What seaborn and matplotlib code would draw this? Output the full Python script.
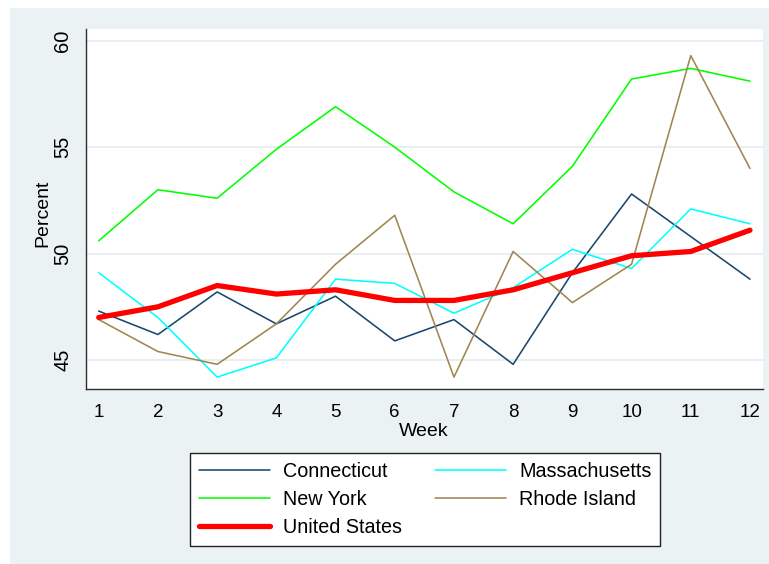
import matplotlib
matplotlib.use("Agg")
import matplotlib.pyplot as plt
from matplotlib.patches import Rectangle
from matplotlib.lines import Line2D
import seaborn as sns
import pandas as pd

# Weekly share (percent) by state
weeks = [1, 2, 3, 4, 5, 6, 7, 8, 9, 10, 11, 12]
connecticut = [47.3, 46.2, 48.2, 46.7, 48.0, 45.9, 46.9, 44.8, 49.1, 52.8, 50.8, 48.8]
massachusetts = [49.1, 47.0, 44.2, 45.1, 48.8, 48.6, 47.2, 48.4, 50.2, 49.3, 52.1, 51.4]
new_york = [50.6, 53.0, 52.6, 54.9, 56.9, 55.0, 52.9, 51.4, 54.1, 58.2, 58.7, 58.1]
rhode_island = [46.9, 45.4, 44.8, 46.7, 49.5, 51.8, 44.2, 50.1, 47.7, 49.5, 59.3, 54.0]
united_states = [47.0, 47.5, 48.5, 48.1, 48.3, 47.8, 47.8, 48.3, 49.1, 49.9, 50.1, 51.1]

y_ticks = [45, 50, 55, 60]

series = {
    "Connecticut": connecticut,
    "Massachusetts": massachusetts,
    "New York": new_york,
    "Rhode Island": rhode_island,
    "United States": united_states,
}
colors = {
    "Connecticut": "#1a476f",
    "Massachusetts": "#00ffff",
    "New York": "#00ff00",
    "Rhode Island": "#a08650",
    "United States": "#ff0000",
}
widths = {
    "Connecticut": 1.15,
    "Massachusetts": 1.15,
    "New York": 1.15,
    "Rhode Island": 1.15,
    "United States": 3.8,
}

df = pd.DataFrame(
    [(name, w, v) for name, vals in series.items() for w, v in zip(weeks, vals)],
    columns=["State", "Week", "Percent"],
)

sns.set_style("white")
plt.rcParams["font.family"] = ["Liberation Sans", "DejaVu Sans"]
plt.rcParams["text.color"] = "black"

W, H = 769, 564
fig = plt.figure(figsize=(W / 100, H / 100), dpi=100)
fig.patch.set_facecolor("white")
# graph region background
fig.patches.append(Rectangle((10 / W, 0), 1 - 10 / W, 1 - 8 / H,
                             transform=fig.transFigure, facecolor="#eaf2f3",
                             edgecolor="none", zorder=-5))

ax = fig.add_axes([86 / W, 1 - 389 / H, (763 - 86) / W, (389 - 29) / H])
ax.set_zorder(1)
ax.set_facecolor("white")

for name in series:
    sub = df[df["State"] == name]
    sns.lineplot(data=sub, x="Week", y="Percent", ax=ax, color=colors[name],
                 linewidth=widths[name], legend=False,
                 zorder=3 if name == "United States" else 2)

ax.set_xlim(0.785, 12.22)
ax.set_ylim(43.64, 60.55)
ax.set_xticks(weeks)
ax.set_yticks(y_ticks)
ax.set_xticklabels([str(w) for w in weeks])
ax.set_yticklabels([str(t) for t in y_ticks], rotation=90, va="center")
ax.grid(axis="y", color="#e6eef0", linewidth=1.3)
ax.grid(axis="x", visible=False)
ax.set_axisbelow(True)

for side in ("top", "right"):
    ax.spines[side].set_visible(False)
for side in ("left", "bottom"):
    ax.spines[side].set_color("#2b2b2b")
    ax.spines[side].set_linewidth(1.0)

ax.tick_params(axis="both", which="major", length=6, width=1.0, color="#2b2b2b",
               labelcolor="black", direction="out")
ax.tick_params(axis="x", pad=5, labelsize=13.5)
ax.tick_params(axis="y", pad=4, labelsize=14.5)
ax.set_xlabel("")
ax.set_ylabel("")

fig.text(42.5 / W, 1 - 213 / H, "Percent", rotation=90, ha="center", va="center",
         fontsize=14)
fig.text(424 / W, 1 - 431 / H, "Week", ha="center", va="center", fontsize=14)

order = ["Connecticut", "New York", "United States", "Massachusetts", "Rhode Island"]
handles = [Line2D([], [], color=colors[n], linewidth=widths[n]) for n in order]
leg = fig.legend(handles, order, loc="upper left",
                 bbox_to_anchor=(190 / W, 1 - 453 / H), ncol=2, fontsize=14.2,
                 frameon=True, fancybox=False, shadow=False, framealpha=1,
                 edgecolor="#222222", facecolor="white",
                 handlelength=3.6, handletextpad=0.68, columnspacing=1.65,
                 labelspacing=0.45, borderpad=0.45, borderaxespad=0)
leg.get_frame().set_linewidth(1.0)

fig.savefig("out.png", dpi=100, facecolor=fig.get_facecolor())
